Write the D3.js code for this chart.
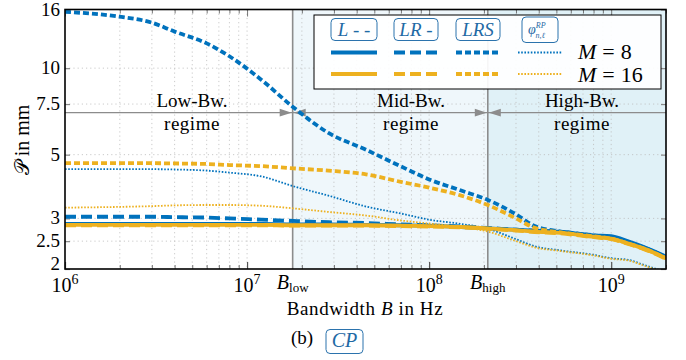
<!DOCTYPE html>
<html>
<head>
<meta charset="utf-8">
<script src="https://cdn.jsdelivr.net/npm/d3@7"></script>
</head>
<body style="margin:0">
<svg width="686" height="360"></svg>
<script>
// bandwidth samples (Hz) shared by all series
const bandwidth = [1e6, 2e6, 3e6, 4e6, 6e6, 8e6, 1.2e7, 1.8e7, 2.8e7, 4.5e7, 7e7, 1e8, 1.5e8, 2.1e8, 3e8, 3.8e8, 5.3e8, 8e8, 1e9, 1.25e9, 1.5e9, 2e9];

// P in mm, M = 8
const lM8   = [2.87, 2.87, 2.87, 2.87, 2.87, 2.87, 2.87, 2.86, 2.86, 2.85, 2.84, 2.83, 2.80, 2.77, 2.74, 2.72, 2.69, 2.62, 2.60, 2.49, 2.39, 2.21];
const lrM8  = [3.04, 3.04, 3.04, 3.03, 3.02, 3.00, 2.97, 2.94, 2.91, 2.89, 2.86, 2.84, 2.81, 2.78, 2.74, 2.72, 2.69, 2.61, 2.57, 2.47, 2.38, 2.20];
const lrsM8 = [15.7, 15.1, 14.4, 13.4, 12.2, 11.0, 9.1, 7.3, 5.95, 5.2, 4.55, 4.1, 3.75, 3.48, 3.1, 2.82, 2.70, 2.62, 2.57, 2.47, 2.38, 2.20];
const phiM8 = [4.45, 4.45, 4.45, 4.44, 4.40, 4.33, 4.20, 3.88, 3.60, 3.30, 3.12, 2.97, 2.87, 2.76, 2.54, 2.40, 2.32, 2.24, 2.18, 2.15, 2.07, 1.95];

// P in mm, M = 16
const lM16   = [2.85, 2.85, 2.85, 2.85, 2.85, 2.85, 2.85, 2.84, 2.84, 2.84, 2.83, 2.82, 2.80, 2.77, 2.73, 2.70, 2.67, 2.59, 2.55, 2.45, 2.36, 2.18];
const lrM16  = [2.84, 2.84, 2.84, 2.84, 2.84, 2.84, 2.84, 2.83, 2.83, 2.83, 2.82, 2.81, 2.79, 2.76, 2.72, 2.69, 2.66, 2.58, 2.54, 2.44, 2.35, 2.17];
const lrsM16 = [4.67, 4.67, 4.67, 4.66, 4.64, 4.60, 4.56, 4.48, 4.40, 4.27, 4.02, 3.84, 3.60, 3.34, 3.00, 2.78, 2.68, 2.60, 2.55, 2.45, 2.36, 2.18];
const phiM16 = [3.27, 3.29, 3.31, 3.33, 3.34, 3.34, 3.32, 3.25, 3.16, 3.07, 2.95, 2.88, 2.80, 2.70, 2.50, 2.38, 2.31, 2.23, 2.17, 2.14, 2.06, 1.94];

const yTicks = [2, 2.5, 3, 5, 7.5, 10, 16];
const yTickLabels = ["2", "2.5", "3", "5", "7.5", "10", "16"];
const decades = [1e6, 1e7, 1e8, 1e9];
const bLow = 1.78e7, bHigh = 2.1e8;
const regimes = ["Low-Bw.", "Mid-Bw.", "High-Bw."];
const legendNames = ["L - -", "LR -", "LRS"];

const blue = "#0072BD", orange = "#EDB120";
const serif = "Liberation Serif";
const styles = {
    l:   { width: 3.8, dash: null },
    lr:  { width: 3.8, dash: "11,5" },
    lrs: { width: 3.8, dash: "6,3" },
    phi: { width: 1.8, dash: "1.6,1.6" }
};

const series = [
    { v: lM8, c: blue, s: "l" }, { v: lrM8, c: blue, s: "lr" }, { v: lrsM8, c: blue, s: "lrs" }, { v: phiM8, c: blue, s: "phi" },
    { v: lM16, c: orange, s: "l" }, { v: lrM16, c: orange, s: "lr" }, { v: lrsM16, c: orange, s: "lrs" }, { v: phiM16, c: orange, s: "phi" }
];

let svg = d3.select("svg");
let pLeft = 65, pRight = 666, pTop = 9.5, pBottom = 269;

let x = d3.scaleLog().domain([1e6, 2e9]).range([pLeft, pRight]);
let y = d3.scaleLog().domain([2, 16]).range([pBottom, pTop]);

// every text goes through this so the serif face is set on the element itself
function label(parent, px, py, size) {
    return parent.append("text").attr("x", px).attr("y", py)
        .attr("font-size", size).style("font-family", serif);
}

svg.append("defs").append("clipPath").attr("id", "plot")
    .append("rect").attr("x", pLeft).attr("y", pTop).attr("width", pRight - pLeft).attr("height", pBottom - pTop);

// regime backgrounds
svg.append("rect").attr("x", x(bLow)).attr("y", pTop).attr("width", x(bHigh) - x(bLow)).attr("height", pBottom - pTop).attr("fill", "#eff7fb");
svg.append("rect").attr("x", x(bHigh)).attr("y", pTop).attr("width", pRight - x(bHigh)).attr("height", pBottom - pTop).attr("fill", "#e0f1f7");

// minor x positions
let xTicks = [];
for (let p = 6; p <= 9; p++) {
    for (let m = 1; m <= 9; m++) {
        let v = m * Math.pow(10, p);
        if (v <= 2e9) xTicks.push(v);
    }
}

// grid
let grid = svg.append("g").attr("stroke", "#bdbdbd").attr("stroke-width", 0.8).attr("stroke-dasharray", "1.2,3");
grid.selectAll("line.v").data(xTicks.filter(d => d > 1e6 && d < 2e9)).enter().append("line")
    .attr("x1", d => x(d)).attr("x2", d => x(d)).attr("y1", pTop).attr("y2", pBottom);
grid.selectAll("line.h").data(yTicks.filter(d => d > 2 && d < 16)).enter().append("line")
    .attr("x1", pLeft).attr("x2", pRight).attr("y1", d => y(d)).attr("y2", d => y(d));

// axis ticks (inward)
let tickColor = "#555";
svg.append("g").attr("transform", "translate(0," + pBottom + ")")
    .call(d3.axisBottom(x).tickValues(xTicks).tickSize(-4).tickFormat(""))
    .call(g => g.select(".domain").remove())
    .call(g => g.selectAll("text").remove())
    .call(g => g.selectAll("line").attr("stroke", tickColor).attr("stroke-width", d => decades.includes(d) ? 1.2 : 0.8)
        .attr("y2", d => decades.includes(d) ? -7 : -4));
svg.append("g").attr("transform", "translate(0," + pTop + ")")
    .call(d3.axisTop(x).tickValues(xTicks).tickSize(-4).tickFormat(""))
    .call(g => g.select(".domain").remove())
    .call(g => g.selectAll("text").remove())
    .call(g => g.selectAll("line").attr("stroke", tickColor).attr("stroke-width", 0.8)
        .attr("y2", d => decades.includes(d) ? 7 : 4));
svg.append("g").attr("transform", "translate(" + pLeft + ",0)")
    .call(d3.axisLeft(y).tickValues(yTicks).tickSize(-5).tickFormat(""))
    .call(g => g.select(".domain").remove())
    .call(g => g.selectAll("text").remove())
    .call(g => g.selectAll("line").attr("stroke", "#888").attr("stroke-width", 1.2));
svg.append("g").attr("transform", "translate(" + pRight + ",0)")
    .call(d3.axisRight(y).tickValues(yTicks).tickSize(-5).tickFormat(""))
    .call(g => g.select(".domain").remove())
    .call(g => g.selectAll("text").remove())
    .call(g => g.selectAll("line").attr("stroke", "#888").attr("stroke-width", 1.2));

// regime boundaries
svg.selectAll("line.bound").data([bLow, bHigh]).enter().append("line")
    .attr("x1", d => x(d)).attr("x2", d => x(d)).attr("y1", pTop).attr("y2", pBottom)
    .attr("stroke", "#8c8c8c").attr("stroke-width", 1.6);

// regime arrows
let arrowY = y(7);
let gray = "#8c8c8c";
svg.append("line").attr("x1", pLeft).attr("x2", pRight).attr("y1", arrowY).attr("y2", arrowY)
    .attr("stroke", gray).attr("stroke-width", 1.4);
function head(xTip, dir) {
    svg.append("path")
        .attr("d", "M" + xTip + "," + arrowY + "L" + (xTip - dir * 12) + "," + (arrowY - 3.8) + "L" + (xTip - dir * 12) + "," + (arrowY + 3.8) + "Z")
        .attr("fill", gray);
}
head(x(bLow) - 1, 1); head(x(bLow) + 1, -1);
head(x(bHigh) - 1, 1); head(x(bHigh) + 1, -1);

let regimeX = [192, 411, 582];
regimes.forEach((r, i) => {
    label(svg, regimeX[i], arrowY - 6, 19).attr("text-anchor", "middle").text(r);
    label(svg, regimeX[i], arrowY + 17, 19).attr("text-anchor", "middle").attr("letter-spacing", 0.5).text("regime");
});

// curves
let line = d3.line().x((d, i) => x(bandwidth[i])).y(d => y(d)).curve(d3.curveMonotoneX);
svg.append("g").attr("clip-path", "url(#plot)")
    .selectAll("path").data(series).enter().append("path")
    .attr("d", d => line(d.v))
    .attr("fill", "none")
    .attr("stroke", d => d.c)
    .attr("stroke-width", d => styles[d.s].width)
    .attr("stroke-dasharray", d => styles[d.s].dash);

// frame
svg.append("rect").attr("x", pLeft).attr("y", pTop).attr("width", pRight - pLeft).attr("height", pBottom - pTop)
    .attr("fill", "none").attr("stroke", "#000").attr("stroke-width", 1.6);

// y tick labels
yTicks.forEach((d, i) => {
    label(svg, pLeft - 5, d == 2 ? y(d) + 1 : y(d) + 6, 19).attr("text-anchor", "end").text(yTickLabels[i]);
});

// x tick labels
decades.forEach(d => {
    let t = label(svg, x(d), 292, 20).attr("text-anchor", "middle");
    t.append("tspan").text("10");
    t.append("tspan").attr("dy", -8).attr("font-size", 14).text(Math.log10(d));
});
[[bLow, "low"], [bHigh, "high"]].forEach(b => {
    let t = label(svg, x(b[0]), 289, 20).attr("text-anchor", "middle");
    t.append("tspan").attr("font-style", "italic").text("B");
    t.append("tspan").attr("dy", 3).attr("font-size", 13).text(b[1]);
});

// axis titles
let xt = label(svg, 365, 315, 19).attr("text-anchor", "middle").attr("letter-spacing", 0.6);
xt.append("tspan").text("Bandwidth ");
xt.append("tspan").attr("font-style", "italic").text("B");
xt.append("tspan").text(" in Hz");

label(svg, 0, 0, 20).attr("transform", "translate(29,140) rotate(-90)").attr("text-anchor", "middle").text("𝒫 in mm");

// caption
label(svg, 302, 344, 19).attr("text-anchor", "middle").text("(b)");
svg.append("rect").attr("x", 326).attr("y", 329.5).attr("width", 37).attr("height", 24).attr("rx", 4)
    .attr("fill", "#fff").attr("stroke", "#2b73ad").attr("stroke-width", 1);
label(svg, 344.5, 347, 20).attr("text-anchor", "middle").attr("font-style", "italic").attr("fill", "#1f6aa5").text("CP");

// legend
let lg = svg.append("g");
lg.append("rect").attr("x", 314).attr("y", 15).attr("width", 347).attr("height", 74)
    .attr("fill", "#fff").attr("fill-opacity", 0.92).attr("stroke", "#000").attr("stroke-width", 1);

let colX = [331, 394, 456, 522];
let colW = [46, 44, 44, 36];
let keys = ["l", "lr", "lrs", "phi"];
colX.forEach((cx, i) => {
    lg.append("rect").attr("x", cx).attr("y", i == 3 ? 17 : 18.5).attr("width", colW[i]).attr("height", i == 3 ? 25.5 : 22).attr("rx", 4)
        .attr("fill", "#fff").attr("stroke", "#2b73ad").attr("stroke-width", 1);
    if (i < 3) {
        let t = label(lg, cx + colW[i] / 2, 35.5, 19).attr("text-anchor", "middle").attr("fill", "#1f6aa5");
        let parts = legendNames[i].split(" ");
        t.append("tspan").attr("font-style", "italic").text(parts[0]);
        if (parts.length > 1) t.append("tspan").text(" " + parts.slice(1).join(" "));
    } else {
        let t = label(lg, cx + 6, 34, 14).attr("fill", "#1f6aa5");
        t.append("tspan").attr("font-style", "italic").text("φ");
        t.append("tspan").attr("dy", -6).attr("font-size", 8).attr("font-style", "italic").text("RP");
        t.append("tspan").attr("dx", -10).attr("dy", 10).attr("font-size", 8).attr("font-style", "italic").text("n,ℓ");
    }
    [[blue, 52.5], [orange, 74]].forEach(r => {
        lg.append("line").attr("x1", i == 3 ? cx - 4 : cx).attr("x2", i == 3 ? cx + 40 : cx + colW[i])
            .attr("y1", r[1]).attr("y2", r[1])
            .attr("stroke", r[0]).attr("stroke-width", styles[keys[i]].width)
            .attr("stroke-dasharray", styles[keys[i]].dash);
    });
});
[["8", 59], ["16", 82]].forEach(m => {
    let t = label(lg, 578, m[1], 22);
    t.append("tspan").attr("font-style", "italic").text("M");
    t.append("tspan").attr("dx", 6).text("=");
    t.append("tspan").attr("dx", 6).text(m[0]);
});
</script>
</body>
</html>
